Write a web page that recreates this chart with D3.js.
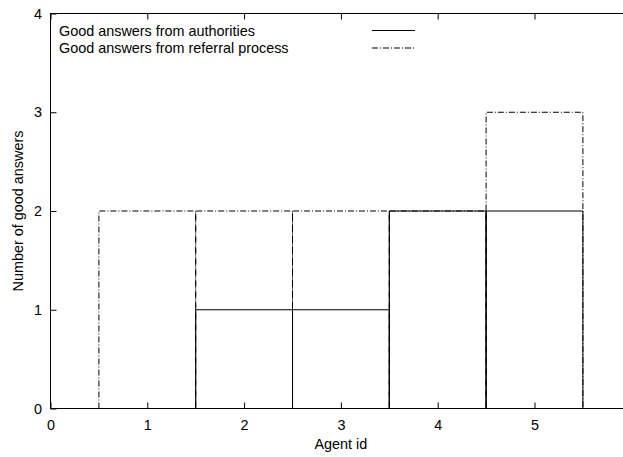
<!DOCTYPE html>
<html>
<head>
<meta charset="utf-8">
<script src="https://cdn.jsdelivr.net/npm/d3@7"></script>
<style>
	body { margin: 0; background: #fff; }
	svg { display: block; font-family: "Liberation Sans", Arial, sans-serif; }
</style>
</head>
<body>
<div id="chart"></div>
<script>
// data
var agents = [1, 2, 3, 4, 5];
var authorities = [0, 1, 1, 2, 2];
var referral = [2, 2, 2, 2, 3];
var xTicks = [0, 1, 2, 3, 4, 5];
var yTicks = [0, 1, 2, 3, 4];
var seriesNames = ["Good answers from authorities", "Good answers from referral process"];

var W = 623, H = 457;
var m = { left: 50.5, top: 13.5, right: 631.3, bottom: 408.5 };
var fontSize = "14.4px";
var dashDot = "6,2,1,2";

var svg = d3.select("#chart").append("svg")
	.attr("width", W)
	.attr("height", H)
	.style("overflow", "hidden");

var x = d3.scaleLinear().domain([0, 6]).range([m.left, m.right]);
var y = d3.scaleLinear().domain([0, 4]).range([m.bottom, m.top]);

function boxPath(a, v) {
	var x0 = x(a - 0.5), x1 = x(a + 0.5), y0 = y(0), y1 = y(v);
	return "M" + x0 + "," + y0 + "L" + x0 + "," + y1 + "L" + x1 + "," + y1 + "L" + x1 + "," + y0;
}

// axes, ticks point inward
var gx = svg.append("g")
	.attr("transform", "translate(0," + m.bottom + ")")
	.call(d3.axisBottom(x).tickValues(xTicks).tickFormat(d3.format("d")).tickSize(-6).tickPadding(11.5));
var gxTop = svg.append("g")
	.attr("transform", "translate(0," + m.top + ")")
	.call(d3.axisTop(x).tickValues(xTicks).tickFormat("").tickSize(-6));
var gy = svg.append("g")
	.attr("transform", "translate(" + m.left + ",0)")
	.call(d3.axisLeft(y).tickValues(yTicks).tickFormat(d3.format("d")).tickSize(-6).tickPadding(8.5));
var gyRight = svg.append("g")
	.attr("transform", "translate(" + m.right + ",0)")
	.call(d3.axisRight(y).tickValues(yTicks).tickFormat("").tickSize(-6));

[gx, gxTop, gy, gyRight].forEach(function (g) {
	g.select(".domain").remove();
	g.selectAll("line").attr("stroke", "#000");
	g.selectAll("text")
		.attr("fill", "#000")
		.style("font-size", fontSize)
		.style("font-family", "'Liberation Sans', Arial, sans-serif");
});

// frame
svg.append("rect")
	.attr("x", m.left)
	.attr("y", m.top)
	.attr("width", m.right - m.left)
	.attr("height", m.bottom - m.top)
	.attr("fill", "none")
	.attr("stroke", "#000");

// boxes
svg.append("g").selectAll("path")
	.data(agents)
	.join("path")
	.attr("d", function (a, i) { return boxPath(a, authorities[i]); })
	.attr("fill", "none")
	.attr("stroke", "#000");

svg.append("g").selectAll("path")
	.data(agents)
	.join("path")
	.attr("d", function (a, i) { return boxPath(a, referral[i]); })
	.attr("fill", "none")
	.attr("stroke", "#000")
	.attr("stroke-dasharray", dashDot);

// legend
var legend = svg.append("g");
seriesNames.forEach(function (name, i) {
	var ly = 30.5 + i * 17.5;
	legend.append("text")
		.attr("x", 59)
		.attr("y", ly + 5)
		.style("font-size", fontSize)
		.text(name);
	legend.append("line")
		.attr("x1", 372).attr("x2", 415)
		.attr("y1", ly).attr("y2", ly)
		.attr("stroke", "#000")
		.attr("stroke-dasharray", i ? dashDot : null);
});

// axis titles
svg.append("text")
	.attr("x", (m.left + m.right) / 2)
	.attr("y", 449)
	.attr("text-anchor", "middle")
	.style("font-size", fontSize)
	.text("Agent id");

svg.append("text")
	.attr("transform", "translate(22.5," + (m.top + m.bottom) / 2 + ") rotate(-90)")
	.attr("text-anchor", "middle")
	.style("font-size", fontSize)
	.text("Number of good answers");
</script>
</body>
</html>
